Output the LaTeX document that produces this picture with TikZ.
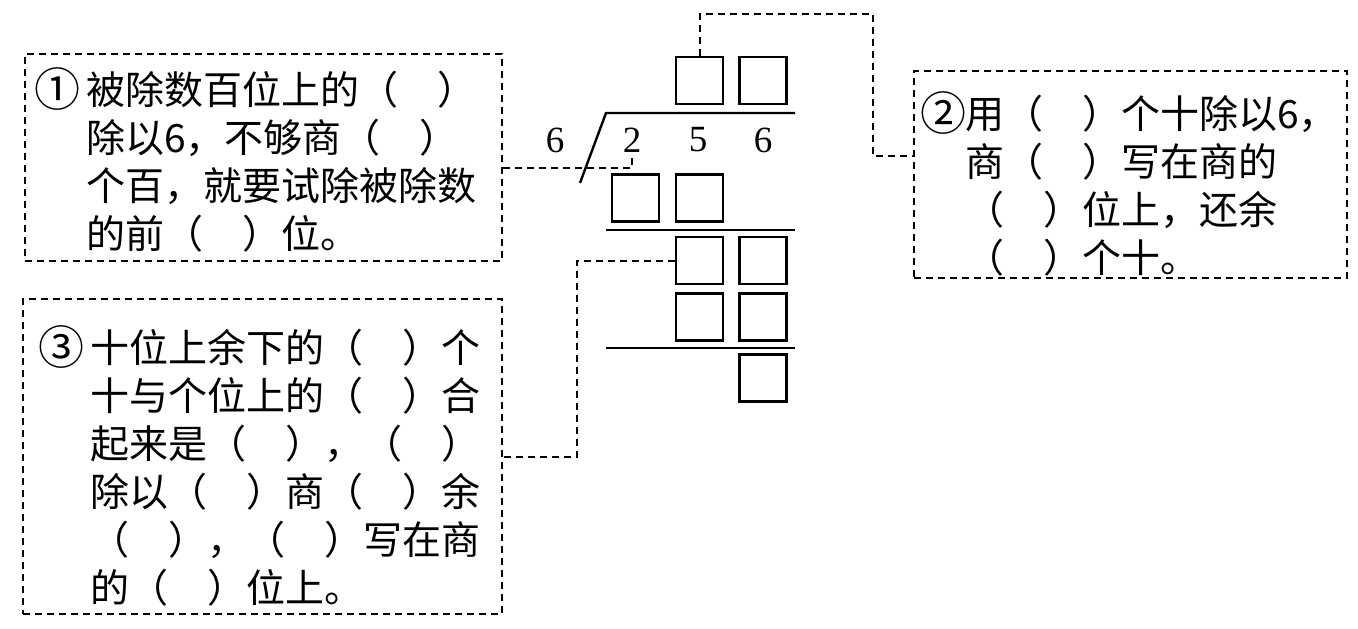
\documentclass[tikz,border=0pt]{standalone}
\usepackage{fontspec}
\setmainfont{Liberation Serif}
\newfontfamily\cjk{Noto Sans CJK SC}
\usepackage{tikz}
\usetikzlibrary{positioning}
\usetikzlibrary{calc}
\tikzset{myDigit/.style={font=\fontsize{37}{37}\selectfont, inner sep=0pt}}
\tikzset{mySquare/.style={draw, line width=2.4pt, minimum size=47pt, inner sep=0pt}}
\tikzset{myHint/.style={draw, line width=2pt, dash pattern=on 7pt off 5pt, inner sep=0pt}}
\tikzset{myLink/.style={line width=2pt, dash pattern=on 7pt off 5pt}}
\tikzset{myRule/.style={line width=2.4pt}}
\tikzset{myText/.style={font=\cjk\fontsize{39}{48}\selectfont, align=left, anchor=base west, inner sep=0pt}}
\tikzset{myNum/.style={font=\cjk\fontsize{46}{48}\selectfont, anchor=base west, inner sep=0pt}}

\begin{document}
\begin{tikzpicture}[x=1pt, y=-1pt]

\useasboundingbox (0,0) rectangle (1358,629);

% hint boxes
\node[myHint, minimum width=477pt, minimum height=207pt] (b1) at (263.5, 157.5) {};
\node[myHint, minimum width=433pt, minimum height=207pt] (b2) at (1130.5, 174.5) {};
\node[myHint, minimum width=479pt, minimum height=315pt] (b3) at (262.5, 456.5) {};

% base of a text node is its last line
\node[myNum] (n1) at (34, 106) {①};
\node[myText] (t1) at (86, 248) {被除数百位上的（　）\\除以6，不够商（　）\\个百，就要试除被除数\\的前（　）位。};

\node[myNum] (n2) at (920, 130) {②};
\node[myText] (t2) at (965, 272) {用（　）个十除以6，\\商（　）写在商的\\（　）位上，还余\\（　）个十。};

\node[myNum] (n3) at (38, 364) {③};
\node[myText] (t3) at (90, 602) {十位上余下的（　）个\\十与个位上的（　）合\\起来是（　），（　）\\除以（　）商（　）余\\（　），（　）写在商\\的（　）位上。};

% the division
\node[myDigit] (dv) at (555, 140) {6};
\node[myDigit] (d2) at (632, 140) {2};
\node[myDigit] (d5) at (698, 140) {5};
\node[myDigit] (d6) at (763, 140) {6};

\node[mySquare] (q1) at (699.5, 80.5) {};
\node[mySquare] (q2) at (763, 80.5) {};
\node[mySquare] (r2a) at (635.5, 198) {};
\node[mySquare] (r2b) at (699.5, 198) {};
\node[mySquare] (r3a) at (699.5, 260.5) {};
\node[mySquare] (r3b) at (763, 260.5) {};
\node[mySquare] (r4a) at (699.5, 317) {};
\node[mySquare] (r4b) at (763, 317) {};
\node[mySquare] (r5) at (763, 378) {};

\draw[myRule] (580, 183) -- (606, 113) -- (795, 113);
\draw[myRule] (606, 230) -- (795, 230);
\draw[myRule] (606, 348) -- (795, 348);

% links
\coordinate (k2) at (873, 14);
\coordinate (k3) at (577, 456.5);

\draw[myLink] ([yshift=-10.5pt]b1.east) -| ([yshift=-1pt]d2.south);
\draw[myLink] (q1.north) |- (k2) |- ([yshift=18.5pt]b2.west);
\draw[myLink] (r3a.west) -| (k3) -- (b3.east);

\end{tikzpicture}
\end{document}
